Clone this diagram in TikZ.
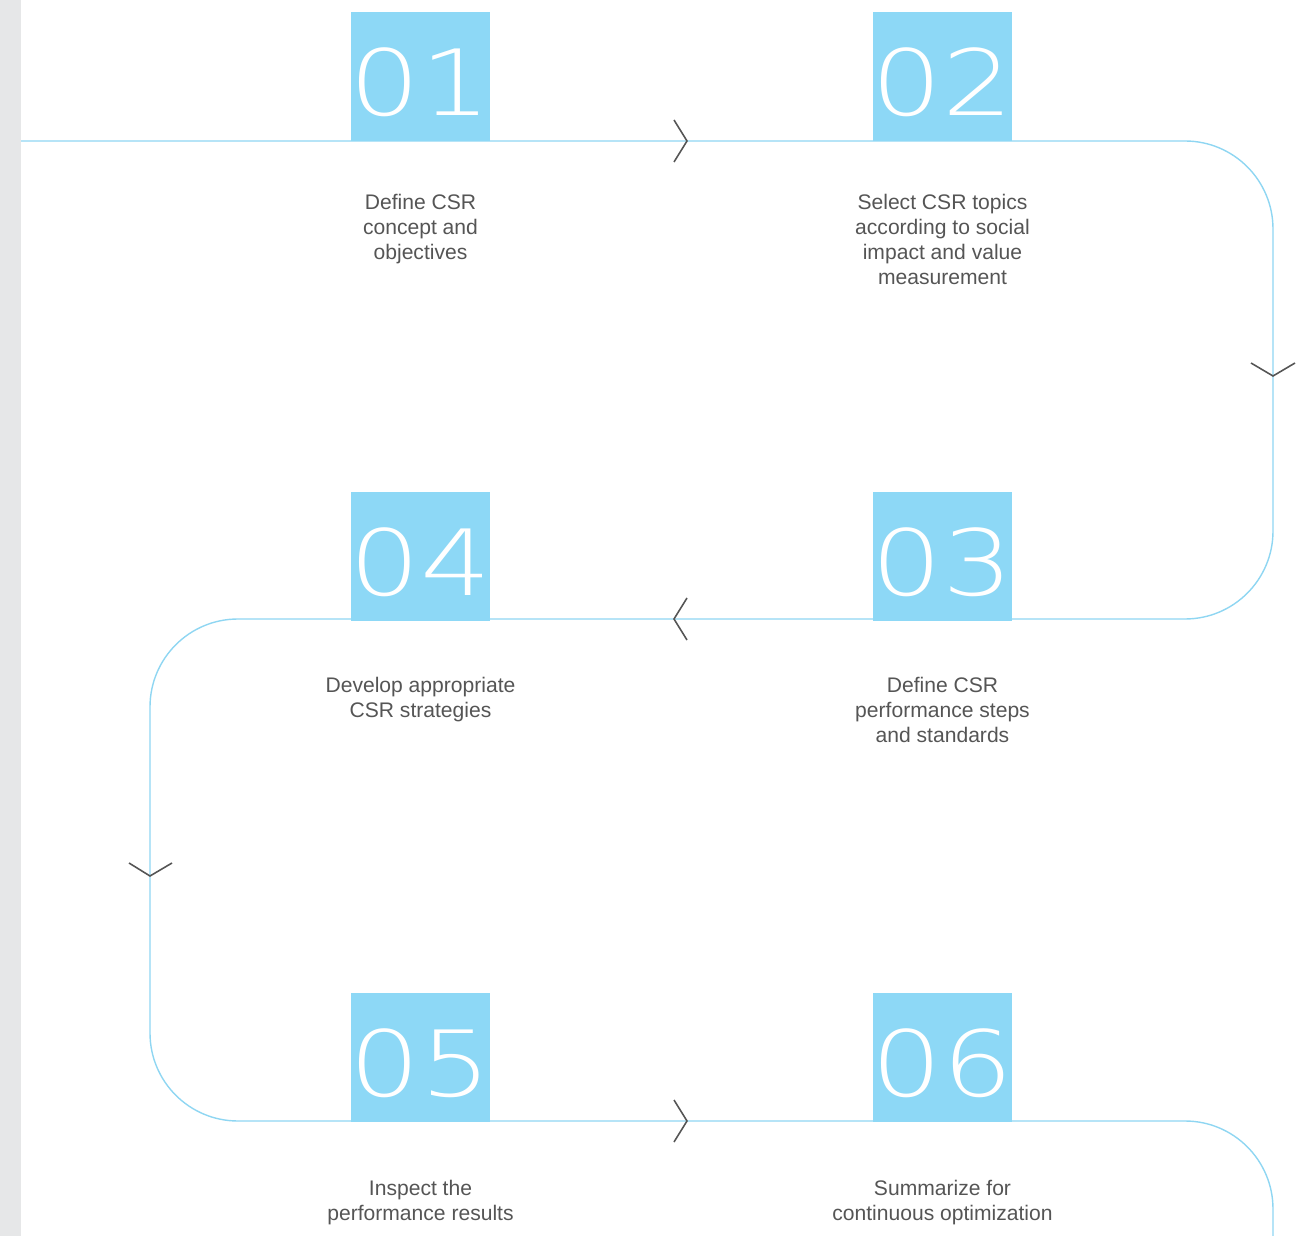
\documentclass[tikz,border=0pt]{standalone}
\usepackage{fontspec}
\setmainfont{Liberation Sans}
\newfontfamily\numfont[FakeStretch=1.22]{DejaVu Sans ExtraLight}
\usetikzlibrary{positioning}

\definecolor{csrblue}{HTML}{8DD8F6}
\definecolor{csrline}{HTML}{8FD6F2}
\definecolor{csrtext}{HTML}{555555}
\definecolor{csrbar}{HTML}{E6E7E8}

\tikzset{
  numbox/.style={fill=csrblue, minimum width=2.78cm, minimum height=2.58cm,
    inner xsep=-5pt, inner ysep=0pt, outer sep=0pt, text=white,
    font=\numfont\fontsize{52}{52}\selectfont, text height=44pt, text depth=0pt},
  steplabel/.style={text=csrtext, align=center, inner sep=0pt,
    font=\fontsize{12}{14.2}\selectfont},
  chevron/.style={draw=csrtext, line width=0.9pt},
  flow/.style={draw=csrline, line width=0.8pt, rounded corners=1.76cm}
}

\begin{document}
\begin{tikzpicture}[x=0.02cm, y=-0.02cm]
\useasboundingbox (0,0) rectangle (1302,1236);
\fill[csrbar] (0,0) rectangle (21,1236);

% the running line
\coordinate (start) at (21,141);
\coordinate (turn1) at (1273,141);
\coordinate (turn2) at (1273,619);
\coordinate (turn3) at (150,619);
\coordinate (turn4) at (150,1121);
\coordinate (turn5) at (1273,1121);
\coordinate (stop) at (1273,1236);
\draw[flow] (start) -- (turn1) -- (turn2) -- (turn3) -- (turn4) -- (turn5) -- (stop);

% direction marks
\foreach \y in {141,1121}
  \draw[chevron] (674,\y-21) -- (687,\y) -- (674,\y+21);
\draw[chevron] (687,598) -- (674,619) -- (687,640);
\draw[chevron] (1251,363) -- (1273,376) -- (1295,363);
\draw[chevron] (129,863) -- (150,876) -- (172,863);

% steps
\node[numbox] (box1) at (420.5,76.5) {01};
\node[numbox] (box2) at (942.5,76.5) {02};
\node[numbox] (box3) at (942.5,556.5) {03};
\node[numbox] (box4) at (420.5,556.5) {04};
\node[numbox] (box5) at (420.5,1057.5) {05};
\node[numbox] (box6) at (942.5,1057.5) {06};

\node[steplabel, below=30pt of box1] (lab1) {Define CSR\\concept and\\objectives};
\node[steplabel, below=30pt of box2] (lab2) {Select CSR topics\\according to social\\impact and value\\measurement};
\node[steplabel, below=32pt of box3] (lab3) {Define CSR\\performance steps\\and standards};
\node[steplabel, below=32pt of box4] (lab4) {Develop appropriate\\CSR strategies};
\node[steplabel, below=33pt of box5] (lab5) {Inspect the\\performance results};
\node[steplabel, below=33pt of box6] (lab6) {Summarize for\\continuous optimization};
\end{tikzpicture}
\end{document}
